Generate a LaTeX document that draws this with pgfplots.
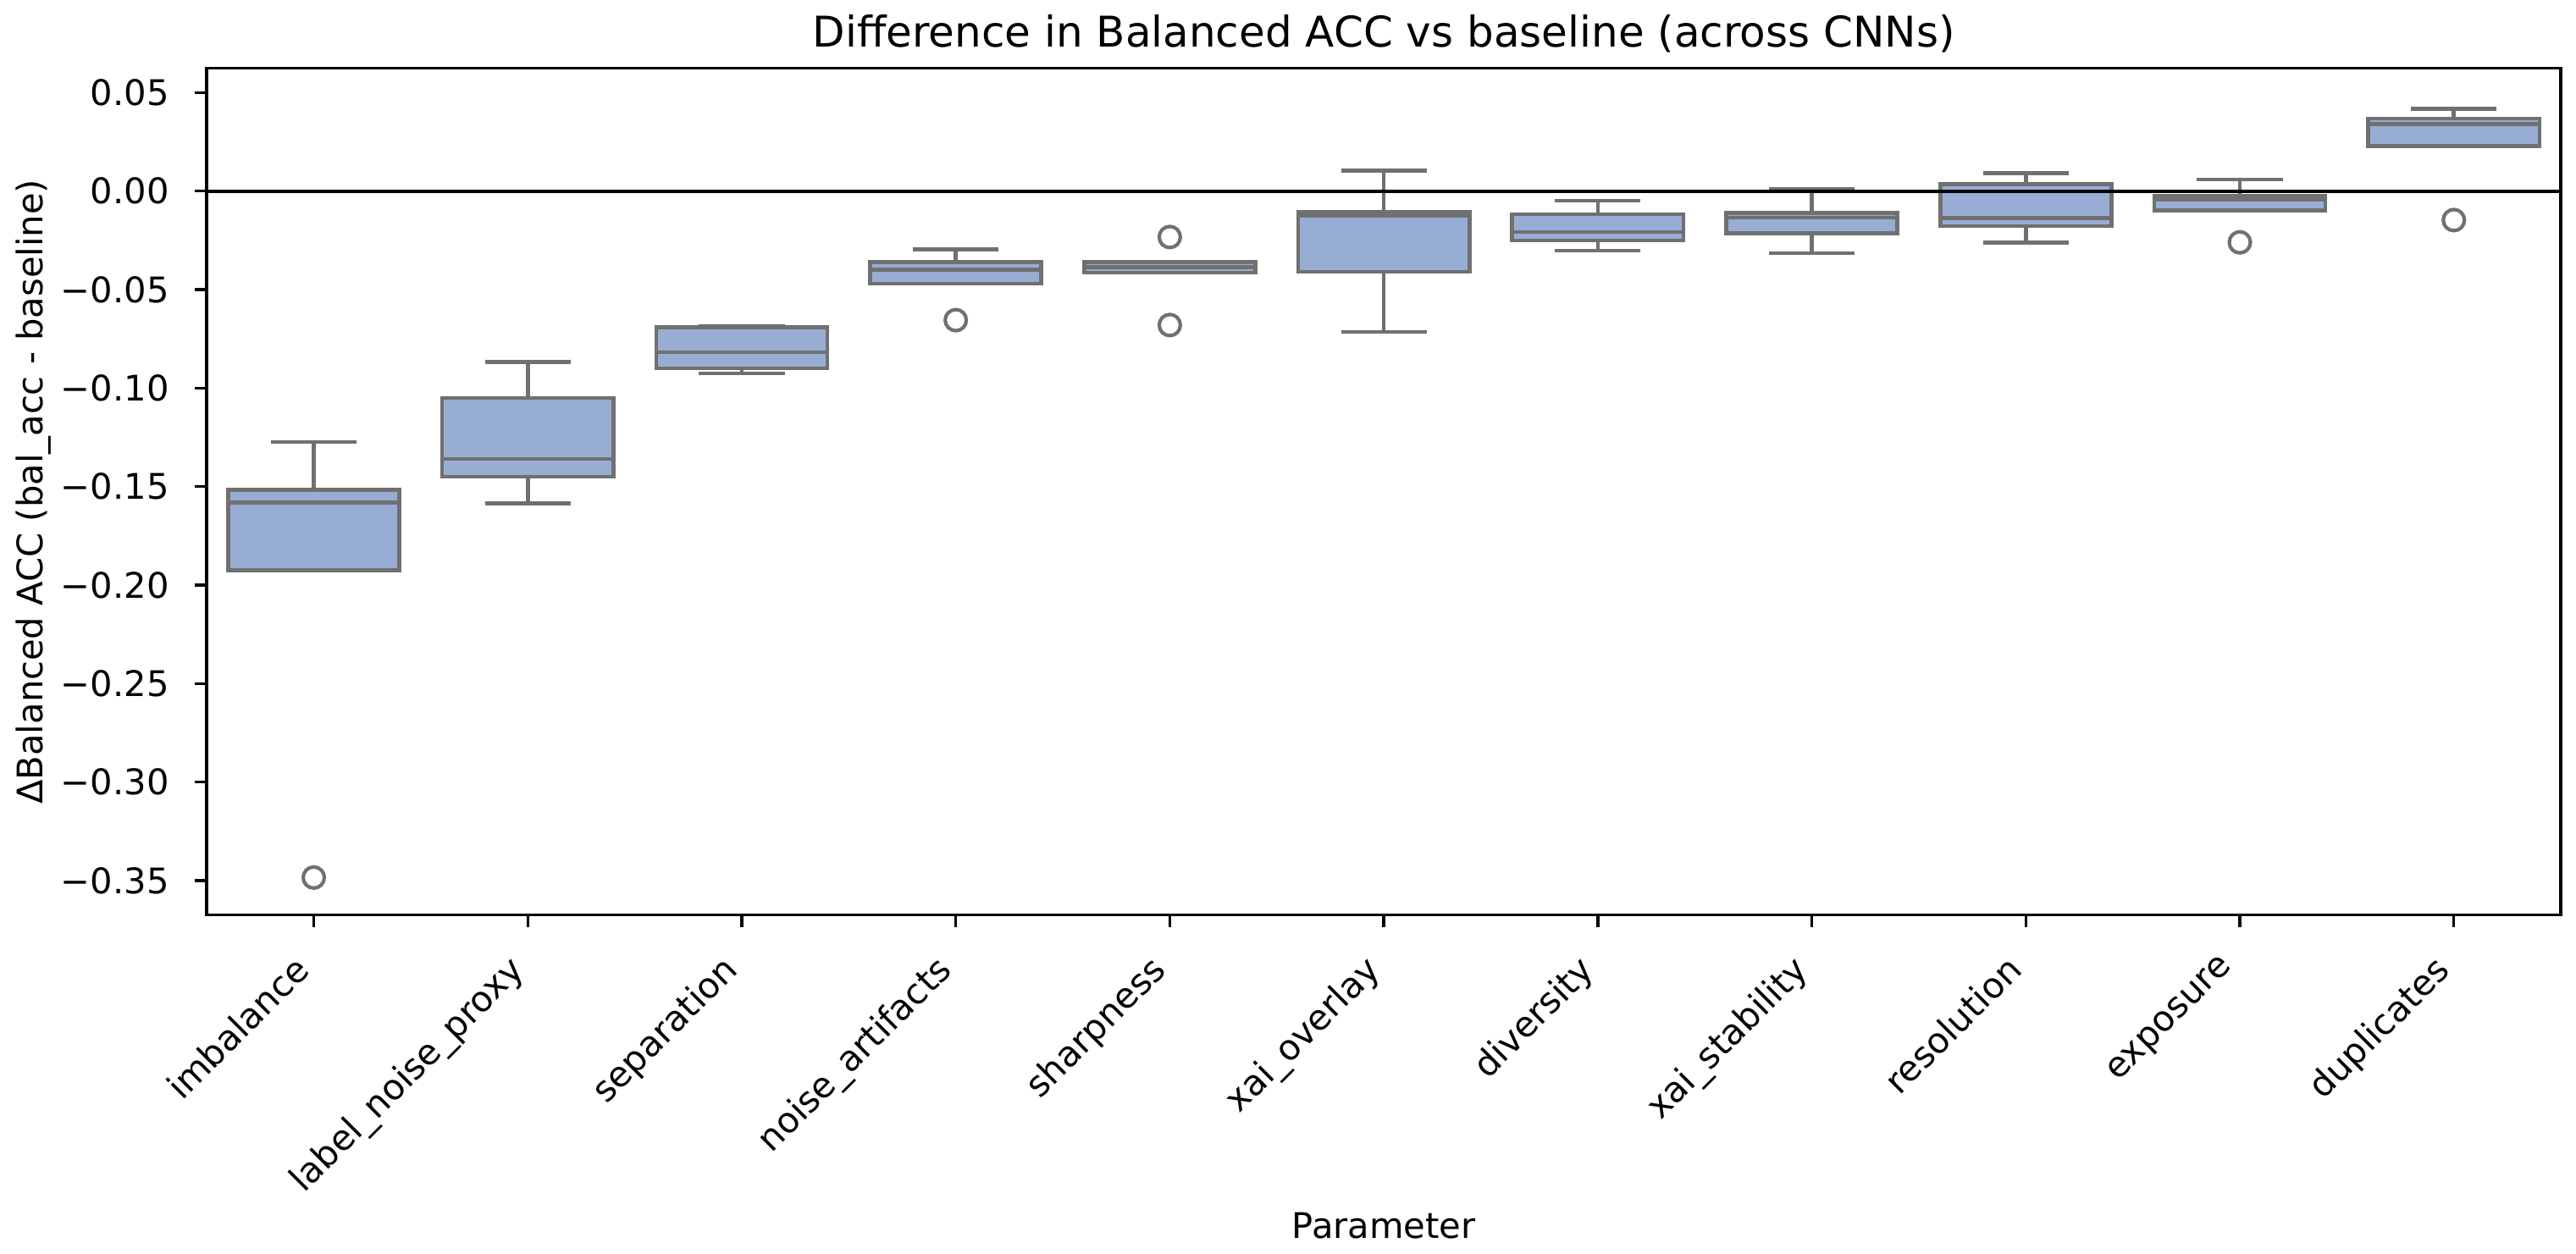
\documentclass[border=0pt]{standalone}
\usepackage{fontspec}
\setmainfont{DejaVu Sans}
\usepackage{pgfplots}
\pgfplotsset{compat=1.18}
\usepgfplotslibrary{statistics}

\definecolor{boxblue}{RGB}{152,173,212}
\definecolor{boxgray}{RGB}{112,112,112}

\pgfplotsset{
  bx/.style={
    boxplot/draw direction=y,
    boxplot/box extend=0.8,
    boxplot/whisker extend=0.4,
    draw=boxgray, fill=boxblue, line width=1.1pt, solid,
    mark=o, mark size=3pt,
    mark options={draw=boxgray, fill=none, line width=1pt},
    boxplot/every median/.style={draw=boxgray, line width=1.1pt},
    boxplot/every whisker/.style={draw=boxgray, line width=1.1pt},
  },
}

\begin{document}
\begin{tikzpicture}
\begin{axis}[
  at={(0,0)}, anchor=south west,
  scale only axis,
  width=667.2pt, height=240pt,
  font=\fontsize{10}{12}\selectfont,
  xmin=-0.5, xmax=10.5,
  ymin=-0.3676, ymax=0.0623,
  xtick={0,...,10},
  xticklabels={imbalance, label\_noise\_proxy, separation, noise\_artifacts,
    sharpness, xai\_overlay, diversity, xai\_stability, resolution,
    exposure, duplicates},
  ytick={-0.35,-0.3,-0.25,-0.2,-0.15,-0.1,-0.05,0,0.05},
  yticklabels={−0.35,−0.30,−0.25,−0.20,−0.15,−0.10,−0.05,0.00,0.05},
  xtick pos=bottom, ytick pos=left,
  tick align=outside,
  major tick length=3.5pt,
  tick style={black, line width=0.8pt},
  axis line style={black, line width=0.8pt},
  xticklabel style={inner sep=0pt, xshift=-6pt, yshift=-7pt, rotate=45, anchor=north east},
  yticklabel style={inner sep=0pt, xshift=-7pt, anchor=east},
  title={Difference in Balanced ACC vs baseline (across CNNs)},
  title style={at={(axis description cs:0.5,1)}, anchor=base,
    inner sep=0pt, font=\fontsize{12}{14.4}\selectfont},
  xlabel={Parameter},
  xlabel style={at={(axis description cs:0.5,-0.382)}, anchor=base, inner sep=0pt},
  ylabel={ΔBalanced ACC (bal\_acc - baseline)},
  ylabel style={at={(axis description cs:-0.0695,0.5)}, anchor=base, inner sep=0pt},
]

% imbalance
\addplot[bx, boxplot prepared={draw position=0,
  lower whisker=-0.1925, lower quartile=-0.1925, median=-0.158,
  upper quartile=-0.1517, upper whisker=-0.1274}]
  table[row sep=\\, y index=0] {-0.3485\\};

% label_noise_proxy
\addplot[bx, boxplot prepared={draw position=1,
  lower whisker=-0.1586, lower quartile=-0.145, median=-0.136,
  upper quartile=-0.105, upper whisker=-0.0868}]
  coordinates {};

% separation
\addplot[bx, boxplot prepared={draw position=2,
  lower whisker=-0.0925, lower quartile=-0.090, median=-0.0818,
  upper quartile=-0.069, upper whisker=-0.0686}]
  coordinates {};

% noise_artifacts
\addplot[bx, boxplot prepared={draw position=3,
  lower whisker=-0.0469, lower quartile=-0.0469, median=-0.0399,
  upper quartile=-0.036, upper whisker=-0.0295}]
  table[row sep=\\, y index=0] {-0.0655\\};

% sharpness
\addplot[bx, boxplot prepared={draw position=4,
  lower whisker=-0.0413, lower quartile=-0.0413, median=-0.0385,
  upper quartile=-0.0359, upper whisker=-0.0359}]
  table[row sep=\\, y index=0] {-0.0233\\ -0.068\\};

% xai_overlay
\addplot[bx, boxplot prepared={draw position=5,
  lower whisker=-0.0715, lower quartile=-0.041, median=-0.0124,
  upper quartile=-0.0104, upper whisker=0.0104}]
  coordinates {};

% diversity
\addplot[bx, boxplot prepared={draw position=6,
  lower whisker=-0.0302, lower quartile=-0.025, median=-0.0207,
  upper quartile=-0.0117, upper whisker=-0.0049}]
  coordinates {};

% xai_stability
\addplot[bx, boxplot prepared={draw position=7,
  lower whisker=-0.0315, lower quartile=-0.0215, median=-0.0135,
  upper quartile=-0.0112, upper whisker=0.0010}]
  coordinates {};

% resolution
\addplot[bx, boxplot prepared={draw position=8,
  lower whisker=-0.0262, lower quartile=-0.0178, median=-0.0136,
  upper quartile=0.0036, upper whisker=0.0092}]
  coordinates {};

% exposure
\addplot[bx, boxplot prepared={draw position=9,
  lower whisker=-0.0097, lower quartile=-0.0097, median=-0.0043,
  upper quartile=-0.0024, upper whisker=0.0059}]
  table[row sep=\\, y index=0] {-0.026\\};

% duplicates
\addplot[bx, boxplot prepared={draw position=10,
  lower whisker=0.0229, lower quartile=0.0229, median=0.0341,
  upper quartile=0.0368, upper whisker=0.0418}]
  table[row sep=\\, y index=0] {-0.0147\\};

% baseline
\addplot[black, line width=1pt, mark=none] coordinates {(-0.5,0) (10.5,0)};

\end{axis}
\pgfresetboundingbox
\path (-58.6pt,-96pt) rectangle (671.5pt,259.4pt);
\end{tikzpicture}
\end{document}
